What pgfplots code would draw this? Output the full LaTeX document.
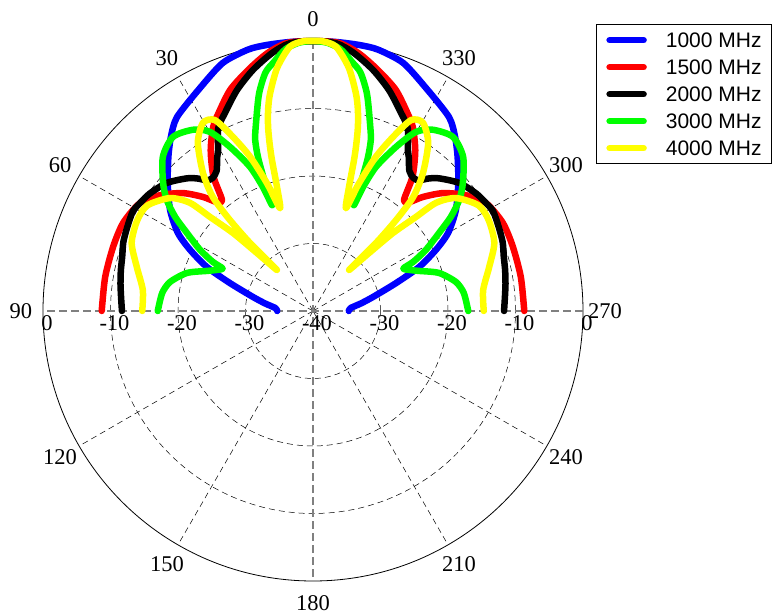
\documentclass[border=0pt]{standalone}
\usepackage{pgfplots}
\pgfplotsset{compat=1.18}
\usepgfplotslibrary{polar}
\usepackage{fontspec}
\setmainfont{Liberation Serif}
\newfontfamily\legendfont{Liberation Sans}
\definecolor{mblue}{RGB}{0,0,255}
\definecolor{mred}{RGB}{255,0,0}
\definecolor{mgreen}{RGB}{0,255,0}
\definecolor{myellow}{RGB}{255,255,0}
\begin{document}
\begin{tikzpicture}
\begin{polaraxis}[
  scale only axis, width=540pt, height=540pt,
  xmin=0, xmax=360, ymin=0, ymax=40,
  xtick={30,60,120,150,210,240,300,330},
  ytick={10,20,30},
  xticklabels={}, yticklabels={},
  major tick length=0pt,
  grid=major,
  major grid style={black, line width=0.5pt, dash pattern=on 6pt off 4pt},
  x axis line style={black, line width=0.8pt},
  y axis line style={draw=none},
  clip=false,
  legend style={at={(1.024,1.031)}, anchor=north west, draw=black, line width=0.8pt,
    fill=white, font=\legendfont\fontsize{21}{21}\selectfont,
    inner xsep=10pt, inner ysep=8pt, row sep=12pt, column sep=19pt,
    nodes={inner sep=0pt, text height=15pt, text depth=0pt}},
  legend cell align=left,
  legend image code/.code={\draw[#1, line cap=round] (3.5pt,0pt) -- (37.5pt,0pt);},
  every axis plot/.append style={line width=6.5pt, line join=round, line cap=round, smooth, tension=0.45},
]
\coordinate (C) at (axis cs:0,0);
\draw[black!50, line width=1.3pt, dash pattern=on 8pt off 4pt] (axis cs:0,40) -- (axis cs:180,40);
\draw[black!50, line width=1.3pt, dash pattern=on 8pt off 4pt] (axis cs:90,40) -- (axis cs:270,40);

% 1000 MHz
\addplot[mblue] coordinates {
(0,5.3) (4.5,5.6) (9,7.2) (13.1,9.1) (18.6,13.0) (22.5,17.0) (26.4,20.3) (30,23.1) (35.2,25.9) (41.4,28.7) (47,31.4) (51,33.4) (55,35.1) (63,37.0) (70,39.1) (76,39.9) (80,40) (85,40)
(90,40) (95,40) (100,40) (104,39.9) (110,39.1) (117,37.0) (125,35.1) (129,33.4) (133,31.4) (138.6,28.7) (144.8,25.9) (150,23.1) (153.6,20.3) (157.5,17.0) (161.4,13.0) (166.9,9.1) (171,7.2) (175.5,5.6) (180,5.3)
};
\addlegendentry{1000 MHz}
% 1500 MHz
\addplot[mred] coordinates {
(0,31.3) (9.3,31.2) (18,31.1) (25,31.0) (32,30.2) (37.2,28.4) (42.2,26.0) (46,23.5) (48.6,21.5) (50.7,21.3) (53.5,24.8) (57.5,28.2) (61.5,31.0) (64.5,32.5) (69.5,35.0) (75,37.0) (80,38.8) (84.5,39.9)
(90,40) (95.5,39.9) (100,38.8) (105,37.0) (110.5,35.0) (115.5,32.5) (118.5,31.0) (122.5,28.2) (126.5,24.8) (129.3,21.3) (131.4,21.5) (134,23.5) (137.8,26.0) (142.8,28.4) (148,30.2) (155,31.0) (162,31.1) (170.7,31.2) (180,31.3)
};
\addlegendentry{1500 MHz}
% 2000 MHz
\addplot[black] coordinates {
(0,28.3) (4,28.5) (8,28.8) (12,29.1) (16,29.4) (20,29.9) (24.4,30.2) (29,30.5) (32,30.2) (35.7,29.8) (41.2,28.8) (46.5,27.1) (49,26.0) (51,24.9) (53,24.7) (55.5,25.2) (58,26.8) (59.5,27.7) (62.6,30.5) (66,32.1) (71,34.6) (76,36.8) (81,38.7) (85,39.8)
(90,40) (95,39.8) (99,38.7) (104,36.8) (109,34.6) (114,32.1) (117.4,30.5) (120.5,27.7) (122,26.8) (124.5,25.2) (127,24.7) (129,24.9) (131,26.0) (133.5,27.1) (138.8,28.8) (144.3,29.8) (148,30.2) (151,30.5) (155.6,30.2) (160,29.9) (164,29.4) (168,29.1) (172,28.8) (176,28.5) (180,28.3)
};
\addlegendentry{2000 MHz}
% 3000 MHz
\addplot[mgreen] coordinates {
(0,23.0) (6.8,22.5) (11.5,21.6) (16.8,19.5) (20.7,16.8) (22.7,15.7) (25.2,14.8) (26.1,16.5) (28.4,19.0) (31.8,22.0) (34.3,24.7) (37.2,27.2) (40.5,29.2) (45.8,31.9) (51.2,33.1) (56.5,32.2) (60.1,30.6) (63.2,27.2) (66.4,23.3) (68,19.8) (68.9,16.8) (69.6,20.7) (70.3,24.1) (71.3,26.7) (72.9,28.8) (76,33.1) (78.7,36.0) (81,37.3) (84,39.0) (87,39.8)
(90,40) (93,39.8) (96,39.0) (99,37.3) (101.3,36.0) (104,33.1) (107.1,28.8) (108.7,26.7) (109.7,24.1) (110.4,20.7) (111.1,16.8) (112,19.8) (113.6,23.3) (116.8,27.2) (119.9,30.6) (123.5,32.2) (128.8,33.1) (134.2,31.9) (139.5,29.2) (142.8,27.2) (145.7,24.7) (148.2,22.0) (151.6,19.0) (153.9,16.5) (154.8,14.8) (157.3,15.7) (159.3,16.8) (163.2,19.5) (168.5,21.6) (173.2,22.5) (180,23.0)
};
\addlegendentry{3000 MHz}
% 4000 MHz
\addplot[myellow] coordinates {
(0,25.3) (7,25.4) (14,26.9) (20.6,28.7) (27.3,29.3) (32.5,29.1) (38.3,27.0) (41.3,24.3) (42.4,20.7) (44.3,16.5) (46,11.9) (48.7,8.1) (47.2,13.7) (47.6,18.3) (48.7,22.5) (51.4,26.1) (55.6,30.2) (59.7,32.3) (62.8,31.8) (65.3,28.4) (67.8,24.7) (70.2,20.1) (72.2,16.0) (73.8,19.1) (74.8,23.2) (75.5,25.7) (76.3,28.1) (77.4,30.5) (78.8,32.8) (81.6,36.4) (85,39.3) (88,40)
(90,40) (92,40) (95,39.3) (98.4,36.4) (101.2,32.8) (102.6,30.5) (103.7,28.1) (104.5,25.7) (105.2,23.2) (106.2,19.1) (107.8,16.0) (109.8,20.1) (112.2,24.7) (114.7,28.4) (117.2,31.8) (120.3,32.3) (124.4,30.2) (128.6,26.1) (131.3,22.5) (132.4,18.3) (132.8,13.7) (131.3,8.1) (134,11.9) (135.7,16.5) (137.6,20.7) (138.7,24.3) (141.7,27.0) (147.5,29.1) (152.7,29.3) (159.4,28.7) (166,26.9) (173,25.4) (180,25.3)
};
\addlegendentry{4000 MHz}

% angle labels
\begin{scope}[every node/.style={font=\fontsize{22.5}{22.5}\selectfont, inner sep=0pt, anchor=center}]
\node at (axis cs:90,43.26) {0};
\node at (axis cs:120,43.26) {30};
\node at (axis cs:150,43.26) {60};
\node at (axis cs:180,43.26) {90};
\node at (axis cs:210,43.26) {120};
\node at (axis cs:240,43.26) {150};
\node at (axis cs:270,43.26) {180};
\node at (axis cs:300,43.26) {210};
\node at (axis cs:330,43.26) {240};
\node at (axis cs:0,43.26) {270};
\node at (axis cs:30,43.26) {300};
\node at (axis cs:60,43.26) {330};
\end{scope}
% radial labels
\begin{scope}[every node/.style={font=\fontsize{22.5}{22.5}\selectfont, inner sep=0pt, anchor=north, yshift=-4pt, xshift=4pt}]
\node at (axis cs:180,40) {0};
\node at (axis cs:180,30) {-10};
\node at (axis cs:180,20) {-20};
\node at (axis cs:180,10) {-30};
\node at (axis cs:0,0) {-40};
\node at (axis cs:0,10) {-30};
\node at (axis cs:0,20) {-20};
\node at (axis cs:0,30) {-10};
\node at (axis cs:0,40) {0};
\end{scope}
\end{polaraxis}
\pgfresetboundingbox
\path[use as bounding box] (C) ++(-313pt,-304pt) rectangle ++(774pt,615pt);
\end{tikzpicture}
\end{document}
